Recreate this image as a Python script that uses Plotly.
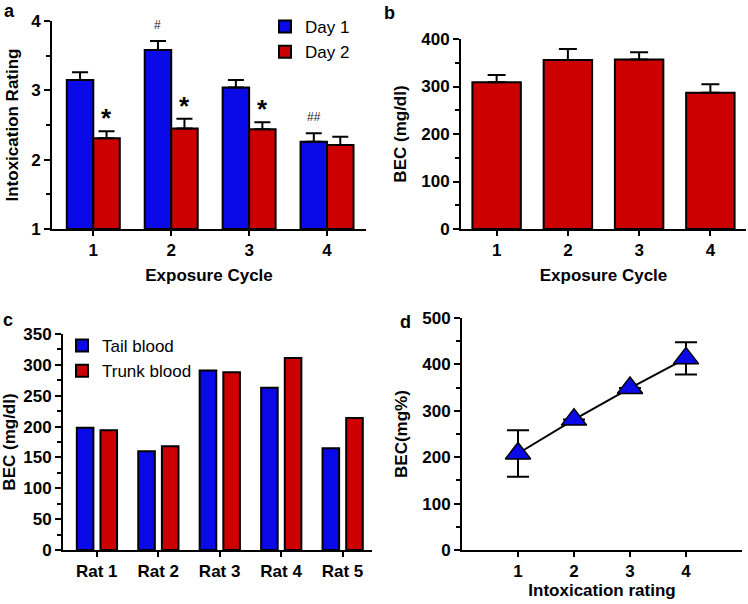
import plotly.graph_objects as go

# Panel a
cycles = ["1", "2", "3", "4"]
day1 = [3.15, 3.58, 3.04, 2.26]
day1_err = [0.11, 0.13, 0.11, 0.12]
day2 = [2.31, 2.45, 2.44, 2.21]
day2_err = [0.10, 0.14, 0.10, 0.12]
sig_star = ["*", "*", "*", ""]
sig_hash = ["", "#", "", "##"]

# Panel b
bec_cycle = [309, 356, 357, 287]
bec_cycle_err = [15, 23, 15, 18]

# Panel c
rats = ["Rat 1", "Rat 2", "Rat 3", "Rat 4", "Rat 5"]
tail = [198, 160, 291, 263, 165]
trunk = [194, 168, 288, 311, 214]

# Panel d
rating = [1, 2, 3, 4]
bec_rating = [208, 281, 349, 413]
bec_rating_err = [50, 0, 0, 35]

BLUE = "#0a0ae8"
RED = "#cc0000"
FONT = "Liberation Sans, Arial, sans-serif"
W, H = 748, 604

fig = go.Figure()

# ---- a ----
fig.add_trace(go.Bar(x=cycles, y=[v - 1 for v in day1], base=1, name="Day 1",
                     marker=dict(color=BLUE, line=dict(color="black", width=2)),
                     offset=-0.34, width=0.34, xaxis="x", yaxis="y", legend="legend",
                     error_y=dict(type="data", array=day1_err, arrayminus=[0]*4, symmetric=False,
                                  color="black", thickness=2, width=8)))
fig.add_trace(go.Bar(x=cycles, y=[v - 1 for v in day2], base=1, name="Day 2",
                     marker=dict(color=RED, line=dict(color="black", width=2)),
                     offset=0, width=0.34, xaxis="x", yaxis="y", legend="legend",
                     error_y=dict(type="data", array=day2_err, arrayminus=[0]*4, symmetric=False,
                                  color="black", thickness=2, width=8)))
for i, c in enumerate(cycles):
    if sig_star[i]:
        fig.add_annotation(x=i + 0.17, y=day2[i] + day2_err[i], text="<b>*</b>", showarrow=False,
                           xref="x", yref="y", yanchor="bottom", yshift=-4,
                           font=dict(size=26, color="black", family=FONT))
    if sig_hash[i]:
        fig.add_annotation(x=i - 0.17, y=day1[i] + day1_err[i], text=sig_hash[i], showarrow=False,
                           xref="x", yref="y", yanchor="bottom", yshift=7,
                           font=dict(size=12, color="#222", family=FONT))

# ---- b ----
fig.add_trace(go.Bar(x=cycles, y=bec_cycle, name="BEC", showlegend=False,
                     marker=dict(color=RED, line=dict(color="black", width=2)),
                     width=0.68, xaxis="x2", yaxis="y2",
                     error_y=dict(type="data", array=bec_cycle_err, arrayminus=[0]*4, symmetric=False,
                                  color="black", thickness=2, width=9)))

# ---- c ----
fig.add_trace(go.Bar(x=rats, y=tail, name="Tail blood",
                     marker=dict(color=BLUE, line=dict(color="black", width=2)),
                     offset=-0.325, width=0.27, xaxis="x3", yaxis="y3", legend="legend2"))
fig.add_trace(go.Bar(x=rats, y=trunk, name="Trunk blood",
                     marker=dict(color=RED, line=dict(color="black", width=2)),
                     offset=0.06, width=0.27, xaxis="x3", yaxis="y3", legend="legend2"))

# ---- d ----
fig.add_trace(go.Scatter(x=rating, y=bec_rating, mode="lines+markers", showlegend=False,
                         line=dict(color="black", width=2),
                         marker=dict(symbol="triangle-up", size=22, color=BLUE,
                                     line=dict(color="black", width=1.5)),
                         error_y=dict(type="data", array=bec_rating_err, color="black",
                                      thickness=2, width=11),
                         xaxis="x4", yaxis="y4"))

tickfont = dict(family=FONT, size=17, color="black", weight="bold")
titlefont = dict(family=FONT, size=17, color="black", weight="bold")

def xax(domain, anchor, rng, title, standoff=6, tickvals=None):
    d = dict(domain=domain, anchor=anchor, range=rng, showline=True, linecolor="black",
             linewidth=2, ticks="outside", ticklen=5, tickwidth=2, tickcolor="black",
             showgrid=False, zeroline=False, tickfont=tickfont, automargin=False,
             title=dict(text=title, font=titlefont, standoff=standoff),
             fixedrange=True)
    if tickvals is not None:
        d["tickvals"] = tickvals
    return d

def yax(domain, anchor, rng, dtick, minor_dtick, title, standoff=6):
    return dict(domain=domain, anchor=anchor, range=rng, dtick=dtick, tick0=0,
                showline=True, linecolor="black", linewidth=2, ticks="outside", ticklen=6,
                tickwidth=2, tickcolor="black", showgrid=False, zeroline=False,
                tickfont=tickfont, automargin=False,
                minor=dict(dtick=minor_dtick, ticks="outside", ticklen=4, tickwidth=2,
                           tickcolor="black", showgrid=False),
                title=dict(text=title, font=titlefont, standoff=standoff),
                fixedrange=True)

fig.update_layout(
    width=W, height=H, margin=dict(l=0, r=0, t=0, b=0),
    paper_bgcolor="white", plot_bgcolor="white",
    barmode="overlay", font=dict(family=FONT, color="black"),
    xaxis=xax([52/W, 366/W], "y", [-0.53, 3.5], "Exposure Cycle", 10),
    yaxis=yax([1-229/H, 1-21/H], "x", [1, 4], 1, 0.5, "Intoxication Rating", 8),
    xaxis2=xax([461/W, 746/W], "y2", [-0.5, 3.5], "Exposure Cycle", 10),
    yaxis2=yax([1-229/H, 1-39/H], "x2", [0, 400], 100, 50, "BEC (mg/dl)", 10),
    xaxis3=xax([63/W, 372/W], "y3", [-0.55, 4.48], "", 4),
    yaxis3=yax([1-550/H, 1-334/H], "x3", [0, 350], 50, 25, "BEC (mg/dl)", 6),
    xaxis4=xax([462/W, 742/W], "y4", [0, 5], "Intoxication rating", 2, tickvals=[1, 2, 3, 4]),
    yaxis4=yax([1-550/H, 1-318/H], "x4", [0, 500], 100, 50, "BEC(mg%)", 10),
    legend=dict(x=265/W, y=1-9/H, xanchor="left", yanchor="top", bgcolor="rgba(0,0,0,0)",
                font=dict(family=FONT, size=17, color="black"), itemwidth=30,
                tracegroupgap=0, traceorder="normal"),
    legend2=dict(x=62/W, y=1-328/H, xanchor="left", yanchor="top", bgcolor="rgba(0,0,0,0)",
                 font=dict(family=FONT, size=17, color="black"), itemwidth=30,
                 tracegroupgap=0, traceorder="normal"),
)

for txt, px, py in [("a", 2, -1), ("b", 382, 1), ("c", 1, 308), ("d", 398, 310)]:
    fig.add_annotation(text=f"<b>{txt}</b>", x=px/W, y=1-py/H, xref="paper", yref="paper",
                       xanchor="left", yanchor="top", showarrow=False,
                       font=dict(family=FONT, size=18, color="black"))

fig.write_html("out.html", config={"displayModeBar": False},
               post_script="document.body.style.margin='0';")
